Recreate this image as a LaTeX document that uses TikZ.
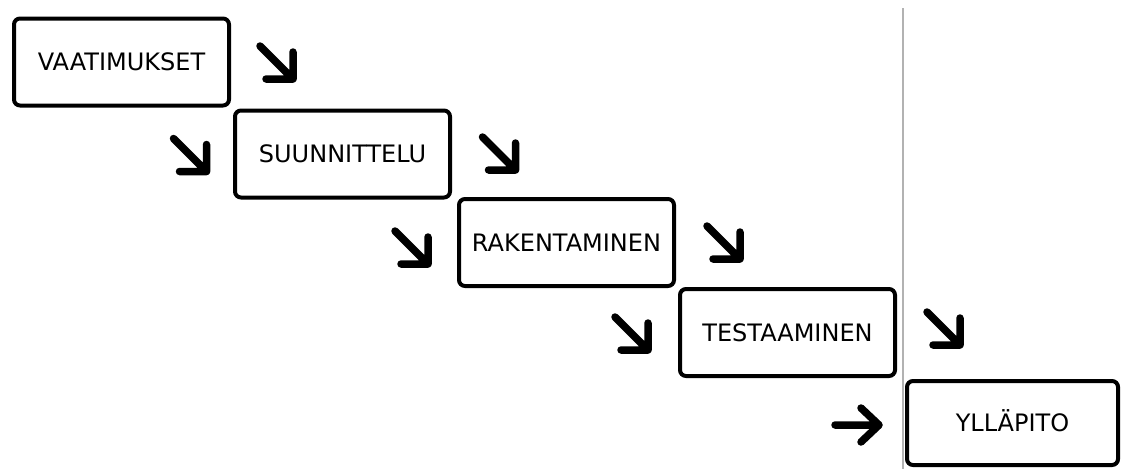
\documentclass[tikz,border=0pt]{standalone}
\usepackage{fontspec}
\setmainfont{DejaVu Sans}

\tikzset{
  phase/.style={draw, line width=4pt, rounded corners=6pt, inner sep=0pt,
    minimum width=215pt, minimum height=87pt,
    text height=17.5pt, text depth=0pt, font=\fontsize{24}{28}\selectfont},
  stepline/.style={line width=7.5pt, line cap=round, line join=round}
}

\begin{document}
\begin{tikzpicture}[x=1pt, y=-1pt]
  \useasboundingbox (0,0) rectangle (1121,469);
  \draw[black!30, line width=1.5pt] (903,8) -- (903,469);

  \node[phase] (vaat) at (121.5, 62) {VAATIMUKSET};
  \node[phase] (suun) at (342.5, 154) {SUUNNITTELU};
  \node[phase] (rake) at (566.5, 242.5) {RAKENTAMINEN};
  \node[phase] (test) at (787.5, 332.5) {TESTAAMINEN};
  \node[phase, minimum width=211pt, minimum height=84pt] (yllp) at (1012.5, 423) {YLLÄPITO};

  % corners of the diagonal arrows
  \coordinate (c1) at (293, 79);
  \coordinate (c2) at (206.5, 171.5);
  \coordinate (c3) at (515.5, 170);
  \coordinate (c4) at (428, 264);
  \coordinate (c5) at (740, 259);
  \coordinate (c6) at (648, 350);
  \coordinate (c7) at (960, 345);
  \coordinate (c8) at (879, 425);

  \foreach \c in {c1,c2,c3,c4,c5,c6,c7}
    \draw[stepline] (\c) ++(-33,-33) -- (\c) -- ++(-27,0) (\c) -- ++(0,-27);
  \draw[stepline] (c8) ++(-44,0) -- (c8) ++(-18,-17) -- (c8) -- ++(-18,17);
\end{tikzpicture}
\end{document}
